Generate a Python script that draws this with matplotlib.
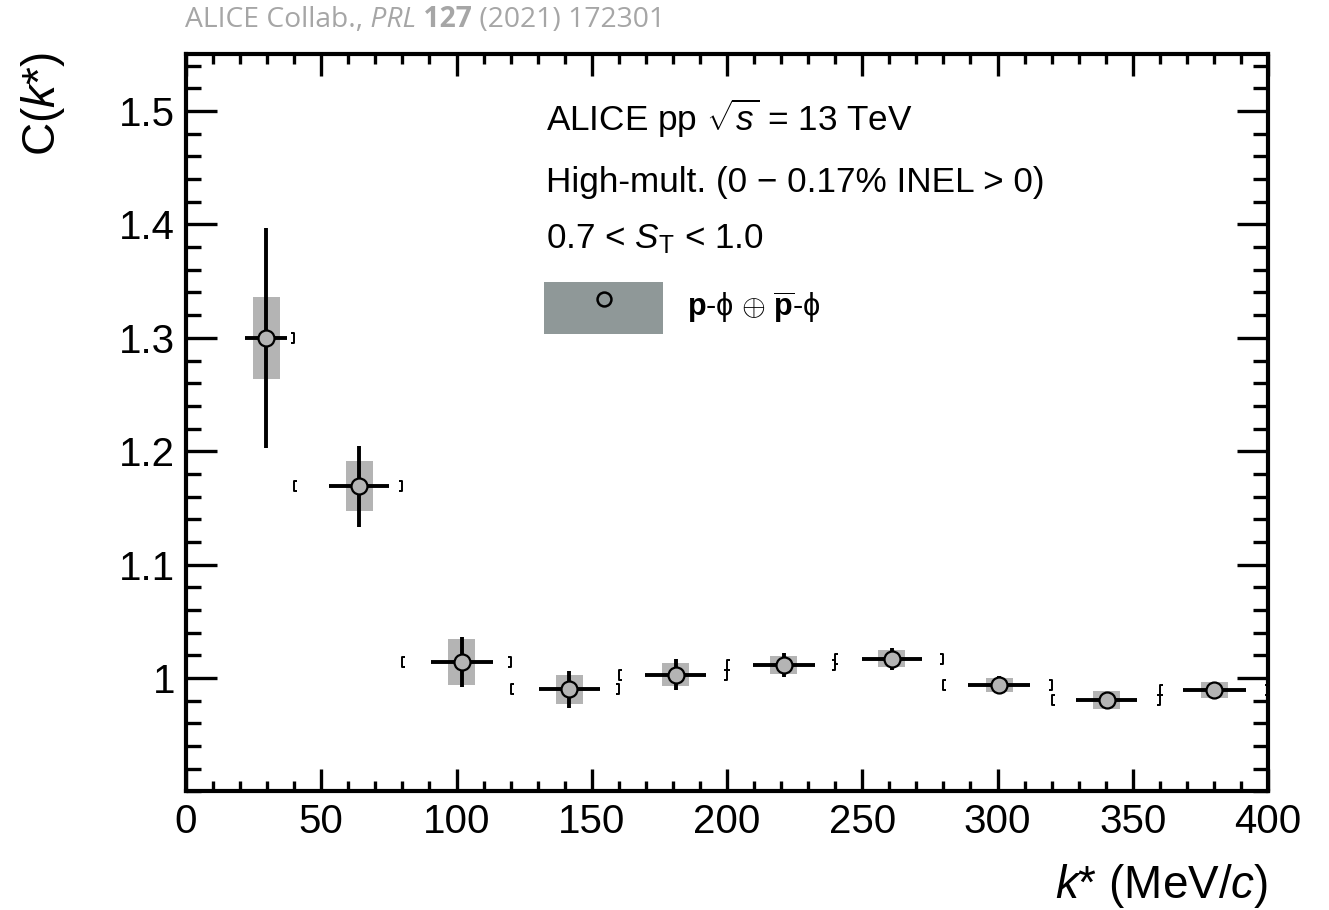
import matplotlib
matplotlib.use("Agg")
import matplotlib.pyplot as plt
import numpy as np
from matplotlib.path import Path
from matplotlib.patches import Patch
from matplotlib.lines import Line2D
from matplotlib.ticker import MultipleLocator, FixedLocator, FormatStrFormatter

plt.rcParams['font.family'] = ['Liberation Sans', 'DejaVu Sans']
plt.rcParams['mathtext.fontset'] = 'custom'
plt.rcParams['mathtext.rm'] = 'Liberation Sans'
plt.rcParams['mathtext.it'] = 'Liberation Sans:italic'
plt.rcParams['mathtext.bf'] = 'Liberation Sans:bold'

# p-phi correlation function
kstar = np.array([29.6, 64.0, 101.9, 141.7, 181.0, 221.0, 260.9, 300.6, 340.4, 380.2])
ck = np.array([1.300, 1.169, 1.014, 0.990, 1.003, 1.0115, 1.017, 0.994, 0.9805, 0.9895])
stat = np.array([0.097, 0.036, 0.022, 0.016, 0.0137, 0.011, 0.0097, 0.008, 0.005, 0.006])
syst = np.array([0.036, 0.022, 0.020, 0.0125, 0.010, 0.008, 0.0075, 0.006, 0.008, 0.007])
kerr = np.array([7.8, 11.0, 11.4, 11.4, 11.4, 11.4, 11.0, 11.4, 11.2, 11.5])
bin_lo = np.array([np.nan, 40, 80, 120, 160, 200, 240, 280, 320, 360])
bin_hi = np.array([40, 80, 120, 160, 200, 240, 280, 320, 360, 400])
yticks = [1.0, 1.1, 1.2, 1.3, 1.4, 1.5]

fig = plt.figure(figsize=(13.29, 9.10), dpi=100)
ax = fig.add_axes([0.14, 0.1303, 0.8141, 0.810])

# systematic boxes
ax.bar(kstar, 2 * syst, bottom=ck - syst, width=10, color='#b4b4b4', zorder=2)

# small bracket marks at the bin edges
lb = Path([(0.6, 1), (0, 1), (0, -1), (0.6, -1)],
          [Path.MOVETO, Path.LINETO, Path.LINETO, Path.LINETO])
rb = Path([(-0.6, 1), (0, 1), (0, -1), (-0.6, -1)],
          [Path.MOVETO, Path.LINETO, Path.LINETO, Path.LINETO])
ax.plot(bin_lo, ck, ls='none', marker=lb, ms=7, mfc='none', mec='black', mew=1.4, zorder=2)
ax.plot(bin_hi, ck, ls='none', marker=rb, ms=7, mfc='none', mec='black', mew=1.4, zorder=2)

# data with statistical errors
ax.errorbar(kstar, ck, xerr=kerr, yerr=stat, fmt='o', ms=11.5, mfc='#b4b4b4',
            mec='black', mew=1.6, ecolor='black', elinewidth=2.8, capsize=0, zorder=3)

ax.set_xlim(0, 400)
ax.set_ylim(0.9, 1.55)
ax.xaxis.set_major_locator(MultipleLocator(50))
ax.xaxis.set_minor_locator(MultipleLocator(10))
ax.yaxis.set_major_locator(FixedLocator(yticks))
ax.yaxis.set_minor_locator(MultipleLocator(0.02))
ax.yaxis.set_major_formatter(FormatStrFormatter('%g'))
ax.tick_params(which='both', direction='in', top=True, right=True, width=2.4)
ax.tick_params(which='major', labelsize=29, pad=8)
ax.tick_params(axis='x', which='major', length=16)
ax.tick_params(axis='x', which='minor', length=7.5)
ax.tick_params(axis='y', which='major', length=22)
ax.tick_params(axis='y', which='minor', length=10.5)
for s in ax.spines.values():
    s.set_linewidth(3)

ax.set_xlabel('$k$* (MeV/$c$)', fontsize=33, loc='right')
ax.xaxis.set_label_coords(1.0, -0.1446)
ax.xaxis.label.set_va('baseline')
ax.set_ylabel('C($k$*)', fontsize=33, loc='top')
ax.yaxis.set_label_coords(-0.121, 1.0032)
ax.yaxis.label.set_va('baseline')

tx = 0.3327
ax.text(tx, 0.8963, r'ALICE pp $\sqrt{s}$ = 13 TeV', transform=ax.transAxes, fontsize=25.3, va='baseline')
ax.text(tx, 0.813, 'High-mult. (0 \u2212 0.17% INEL > 0)', transform=ax.transAxes, fontsize=25.3, va='baseline')
ax.text(tx, 0.7367, r'0.7 < $S_{\mathrm{T}}$ < 1.0', transform=ax.transAxes, fontsize=25.3, va='baseline')

h = (Patch(facecolor='#8f9898', edgecolor='none'),
     Line2D([], [], ls='none', marker='o', ms=10, mfc='none', mec='black', mew=1.8))
ax.legend([h], [r'$\mathbf{p}$-$\mathrm{\phi}$ $\oplus$ $\overline{\mathbf{p}}$-$\mathrm{\phi}$'],
          loc='upper left', bbox_to_anchor=(0.3309, 0.6917), frameon=False,
          fontsize=22, handlelength=3.9, handleheight=2.24, handletextpad=0.78,
          borderpad=0, borderaxespad=0)

# citation line on top
cite = dict(color='#a6a6a6', fontsize=20.3, family=['Open Sans', 'DejaVu Sans'])
prev = fig.text(0.1395, 0.9703, 'ALICE Collab.,', va='baseline', **cite)
for txt, st, wt in [(' PRL', 'italic', 'normal'), (' 127', 'normal', 'bold'),
                    (' (2021) 172301', 'normal', 'normal')]:
    prev = ax.annotate(txt, xy=(1, 0), xycoords=prev, va='bottom', ha='left',
                       style=st, weight=wt, annotation_clip=False, **cite)

fig.savefig('out.png', dpi=100)
